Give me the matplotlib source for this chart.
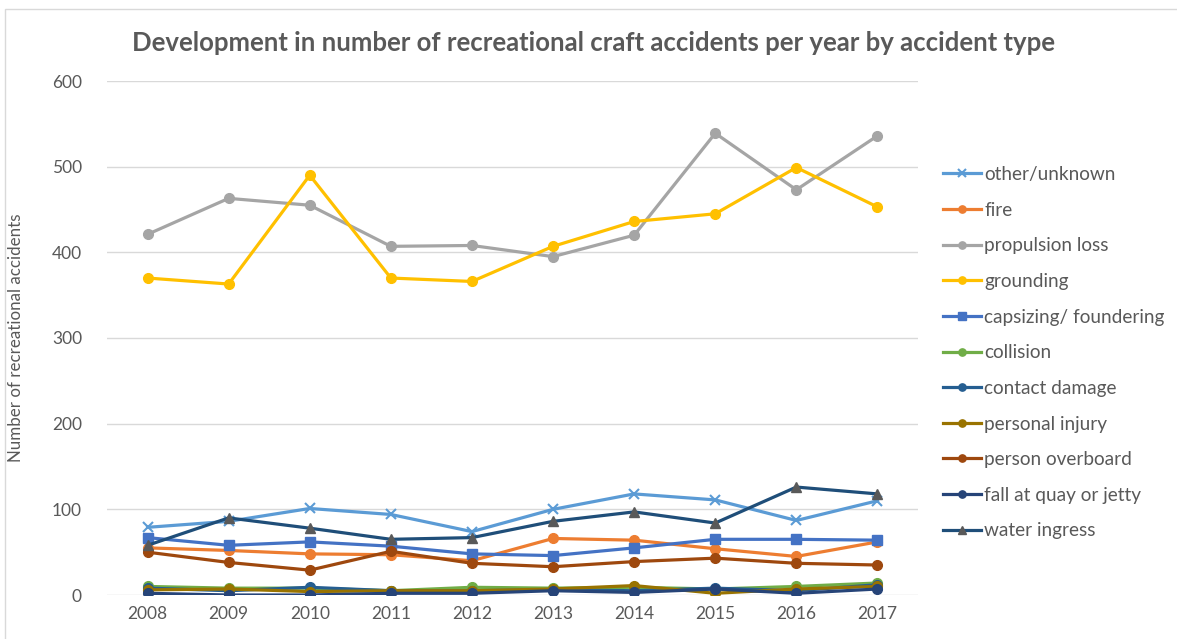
import matplotlib.pyplot as plt
from matplotlib.patches import Rectangle

plt.rcParams['font.family'] = ['Lato', 'DejaVu Sans']

years = [2008, 2009, 2010, 2011, 2012, 2013, 2014, 2015, 2016, 2017]

other_unknown = [79, 86, 101, 94, 74, 100, 118, 111, 87, 110]
fire = [55, 52, 48, 47, 40, 66, 64, 54, 45, 62]
propulsion_loss = [421, 463, 455, 407, 408, 395, 420, 539, 473, 536]
grounding = [370, 363, 490, 370, 366, 407, 436, 445, 499, 453]
capsizing = [67, 58, 62, 57, 48, 46, 55, 65, 65, 64]
collision = [10, 8, 8, 5, 9, 8, 9, 7, 10, 14]
contact_damage = [8, 5, 9, 5, 5, 6, 5, 8, 5, 12]
personal_injury = [6, 7, 4, 5, 5, 7, 11, 2, 7, 10]
person_overboard = [50, 38, 29, 51, 37, 33, 39, 43, 37, 35]
fall_at_quay = [2, 0, 0, 2, 2, 5, 3, 7, 2, 7]
water_ingress = [58, 90, 78, 65, 67, 86, 97, 84, 126, 118]

# label, values, line colour, marker, marker face colour
series = [
    ('other/unknown', other_unknown, '#5B9BD5', 'x', '#5B9BD5'),
    ('fire', fire, '#ED7D31', 'o', '#ED7D31'),
    ('propulsion loss', propulsion_loss, '#A5A5A5', 'o', '#A5A5A5'),
    ('grounding', grounding, '#FFC000', 'o', '#FFC000'),
    ('capsizing/ foundering', capsizing, '#4472C4', 's', '#4472C4'),
    ('collision', collision, '#70AD47', 'o', '#70AD47'),
    ('contact damage', contact_damage, '#255E91', 'o', '#255E91'),
    ('personal injury', personal_injury, '#997300', 'o', '#997300'),
    ('person overboard', person_overboard, '#9E480E', 'o', '#9E480E'),
    ('fall at quay or jetty', fall_at_quay, '#264478', 'o', '#264478'),
    ('water ingress', water_ingress, '#1F4E79', '^', '#595959'),
]

text_col = '#595959'
grid_col = '#D9D9D9'

fig = plt.figure(figsize=(11.77, 6.39), dpi=100)
fig.patches.append(Rectangle((5 / 1177, -0.05), 1.2, 1 - 9 / 639 + 0.05,
                             transform=fig.transFigure, fill=False,
                             edgecolor=grid_col, linewidth=1.0))

ax = fig.add_axes([107 / 1177, 44 / 639, 811 / 1177, 514 / 639])
x = list(range(len(years)))
for label, vals, col, mk, mfc in series:
    ms = 7 if mk in ('o', 's') else 7.5
    ax.plot(x, vals, color=col, linewidth=2.3, marker=mk, markersize=ms,
            markerfacecolor=mfc, markeredgecolor=mfc,
            markeredgewidth=1.5 if mk == 'x' else 1.0, label=label)

ax.set_xlim(-0.5, len(years) - 0.5)
ax.set_ylim(0, 600)
ax.set_yticks(range(0, 601, 100))
ax.set_xticks(x)
ax.set_xticklabels([str(y) for y in years])
ax.tick_params(length=0, labelsize=12.5, colors=text_col, pad=8)
ax.tick_params(axis='y', pad=18)
ax.grid(axis='y', color=grid_col, linewidth=1.0)
ax.set_axisbelow(True)
for s in ax.spines.values():
    s.set_visible(False)

ax.set_ylabel('Number of recreational accidents', fontsize=12.2, color=text_col, labelpad=20)

fig.text(0.504, 1 - 43 / 639, 'Development in number of recreational craft accidents per year by accident type',
         ha='center', va='center', fontsize=18.5, fontweight='bold', color=text_col)

leg = ax.legend(loc='upper left', bbox_to_anchor=(1.01, 0.868), frameon=False,
                fontsize=13.7, labelspacing=0.98, handlelength=2.0,
                handletextpad=0.15, markerscale=0.75)
for t in leg.get_texts():
    t.set_color(text_col)

fig.savefig('out.png', dpi=100)
